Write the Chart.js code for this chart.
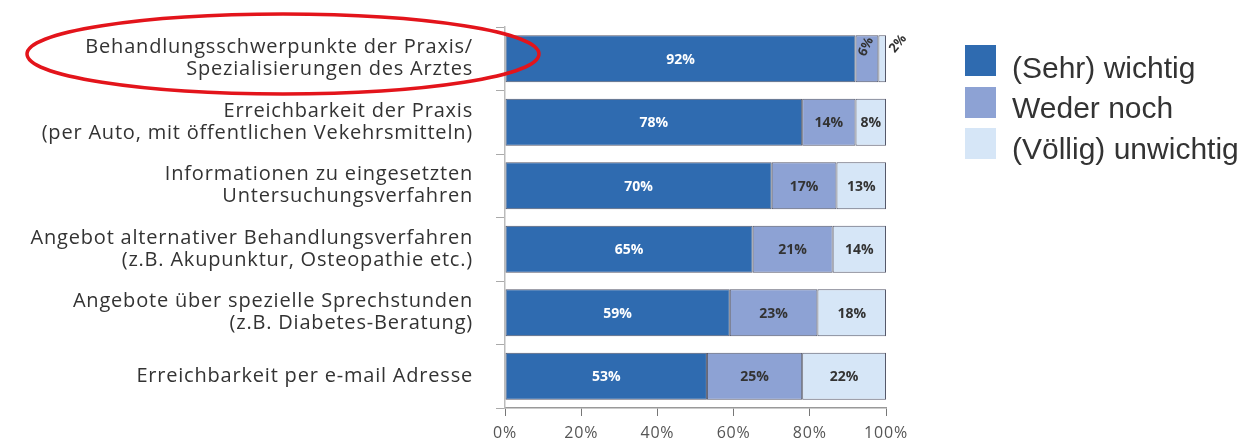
<!DOCTYPE html>
<html><head><meta charset="utf-8">
<script src="https://cdn.jsdelivr.net/npm/chart.js@4/dist/chart.umd.min.js"></script>
<style>html,body{margin:0;padding:0;background:#fff}#wrap{width:1251px;height:439px;position:relative}</style>
</head><body><div id="wrap"><canvas id="c" width="1251" height="439"></canvas></div>
<script>
const categories = [
  ["Behandlungsschwerpunkte der Praxis/", "Spezialisierungen des Arztes"],
  ["Erreichbarkeit der Praxis", "(per Auto, mit öffentlichen Vekehrsmitteln)"],
  ["Informationen zu eingesetzten", "Untersuchungsverfahren"],
  ["Angebot alternativer Behandlungsverfahren", "(z.B. Akupunktur, Osteopathie etc.)"],
  ["Angebote über spezielle Sprechstunden", "(z.B. Diabetes-Beratung)"],
  ["Erreichbarkeit per e-mail Adresse"]
];
const seriesNames = ["(Sehr) wichtig", "Weder noch", "(Völlig) unwichtig"];
const wichtig = [92, 78, 70, 65, 59, 53];
const wederNoch = [6, 14, 17, 21, 23, 25];
const unwichtig = [2, 8, 13, 14, 18, 22];
const xTicks = [0, 20, 40, 60, 80, 100];

const colors = ["#2f6bb0", "#8da2d4", "#d6e6f7"];
const labelColors = ["#ffffff", "#333333", "#333333"];
const FONT = "'Open Sans', 'DejaVu Sans', sans-serif";

const spacingPlugin = {
  id: 'spacing',
  beforeDraw(chart) { chart.ctx.letterSpacing = '0.8px'; },
  beforeDatasetsDraw(chart) { chart.ctx.letterSpacing = '0px'; }
};

const labelPlugin = {
  id: 'segLabels',
  afterDatasetsDraw(chart) {
    const ctx = chart.ctx;
    chart.data.datasets.forEach((ds, di) => {
      const meta = chart.getDatasetMeta(di);
      meta.data.forEach((bar, i) => {
        const v = ds.data[i];
        const txt = v + '%';
        const left = Math.min(bar.x, bar.base), right = Math.max(bar.x, bar.base);
        ctx.save();
        ctx.fillStyle = labelColors[di];
        ctx.font = "bold 14px " + FONT;
        ctx.textAlign = 'center';
        ctx.textBaseline = 'middle';
        if (v < 7) {
          ctx.fillStyle = '#333';
          ctx.font = "bold 13px " + FONT;
          let cx = (left + right) / 2 - 1;
          let cy = bar.y - 12;
          let ang = -Math.PI * 0.36;
          if (di === 2) { cx = right + 12; cy = bar.y - 15; ang = -Math.PI * 0.28; }
          ctx.translate(cx, cy);
          ctx.rotate(ang);
          ctx.fillText(txt, 0, 0);
        } else {
          ctx.fillText(txt, (left + right) / 2, bar.y + 1);
        }
        ctx.restore();
      });
    });
  }
};

const extrasPlugin = {
  id: 'extras',
  afterDraw(chart) {
    const ctx = chart.ctx;
    ctx.save();
    ctx.letterSpacing = '0px';
    const lx = 965, ly = [45, 87, 128], tb = [78, 118, 159];
    seriesNames.forEach((n, i) => {
      ctx.fillStyle = colors[i];
      ctx.fillRect(lx, ly[i], 31, 31);
      ctx.fillStyle = '#333';
      ctx.font = "30px 'Liberation Sans', Arial, sans-serif";
      ctx.textBaseline = 'alphabetic';
      ctx.textAlign = 'left';
      ctx.fillText(n, 1012, tb[i]);
    });
    ctx.beginPath();
    ctx.ellipse(283, 54, 256, 40, 0, 0, Math.PI * 2);
    ctx.strokeStyle = '#e3141b';
    ctx.lineWidth = 3.5;
    ctx.stroke();
    ctx.restore();
  }
};

new Chart(document.getElementById('c'), {
  type: 'bar',
  data: {
    labels: categories,
    datasets: [wichtig, wederNoch, unwichtig].map((d, i) => ({
      label: seriesNames[i],
      data: d,
      backgroundColor: colors[i],
      borderColor: '#55586a',
      borderWidth: 1,
      borderSkipped: false,
      categoryPercentage: 0.74,
      barPercentage: 1.0
    }))
  },
  options: {
    indexAxis: 'y',
    responsive: false,
    animation: false,
    devicePixelRatio: 1,
    layout: { padding: { top: 27, right: 365, left: 0, bottom: 0 } },
    plugins: { legend: { display: false }, tooltip: { enabled: false } },
    scales: {
      x: {
        stacked: true, min: 0, max: 100,
        afterBuildTicks: s => { s.ticks = xTicks.map(v => ({ value: v })); },
        afterFit: s => { s.height = 31; s.paddingLeft = 0; s.paddingRight = 0; },
        border: { display: true, color: '#999', width: 1.5 },
        grid: { drawOnChartArea: false, drawTicks: true, tickLength: 8, color: '#777' },
        ticks: { callback: v => v + '%', color: '#555', padding: 8, font: { size: 16, family: FONT } }
      },
      y: {
        stacked: true,
        afterFit: s => { s.width = 505; s.paddingTop = 0; s.paddingBottom = 0; },
        border: { display: true, color: '#bbb', width: 1.5 },
        grid: { offset: true, drawOnChartArea: false, drawTicks: true, tickLength: 9, color: '#aaa' },
        ticks: { color: '#333', padding: 23, font: { size: 20, family: FONT, lineHeight: 1.1 }, crossAlign: 'near' }
      }
    }
  },
  plugins: [spacingPlugin, labelPlugin, extrasPlugin]
});
</script></body></html>
